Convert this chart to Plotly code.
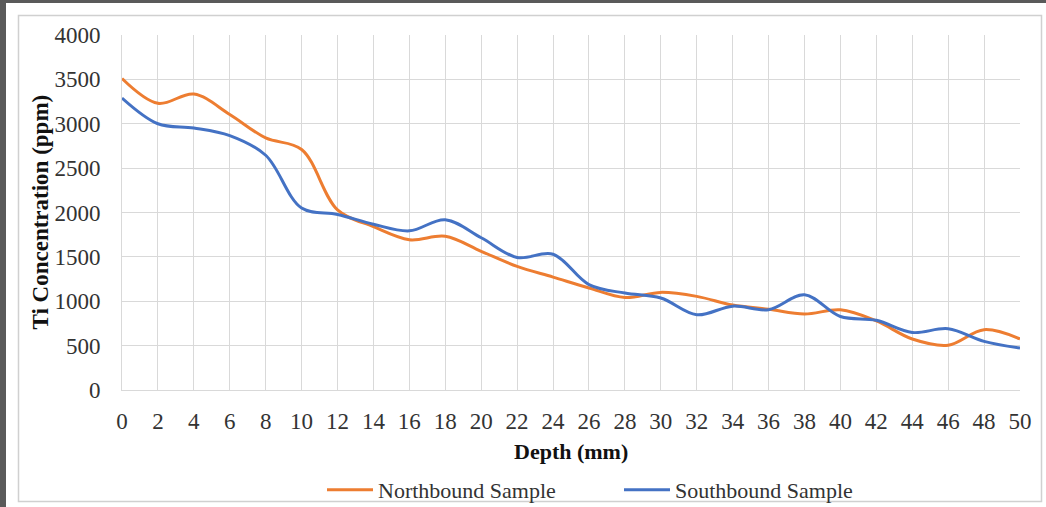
import plotly.graph_objects as go

depth = [0, 2, 4, 6, 8, 10, 12, 14, 16, 18, 20, 22, 24, 26, 28, 30, 32, 34, 36, 38, 40, 42, 44, 46, 48, 50]
northbound = [3510, 3230, 3335, 3105, 2840, 2710, 2030, 1840, 1693, 1732, 1563, 1392, 1272, 1150, 1042, 1100,
              1055, 957, 910, 856, 903, 778, 575, 505, 680, 575]
southbound = [3290, 3000, 2953, 2867, 2645, 2050, 1978, 1868, 1793, 1918, 1715, 1493, 1530, 1188, 1092, 1036,
              848, 945, 905, 1072, 828, 785, 648, 690, 548, 472]
y_ticks = [0, 500, 1000, 1500, 2000, 2500, 3000, 3500, 4000]
x_ticks = depth

W, H = 1046, 507
L, R, T, B = 122, 26, 35, 117
PW, PH = W - L - R, H - T - B


def px_x(p):
    return (p - L) / PW


def px_y(p):
    return 1 - (p - T) / PH


SERIF = "Liberation Serif, Times New Roman, serif"

fig = go.Figure()
fig.add_trace(go.Scatter(x=depth, y=northbound, mode="lines", name="Northbound Sample",
                         line=dict(color="#ED7D31", width=3, shape="spline", smoothing=1)))
fig.add_trace(go.Scatter(x=depth, y=southbound, mode="lines", name="Southbound Sample",
                         line=dict(color="#4472C4", width=3, shape="spline", smoothing=1)))

fig.update_layout(
    width=W, height=H, autosize=False,
    margin=dict(l=L, r=R, t=T, b=B, pad=0, autoexpand=False),
    paper_bgcolor="white", plot_bgcolor="white",
    font=dict(family=SERIF, size=22, color="#333333"),
    showlegend=True,
    legend=dict(orientation="h", xref="container", yref="container",
                x=322 / W, y=1 - 490 / H, xanchor="left", yanchor="middle",
                font=dict(family=SERIF, size=22, color="#333333"),
                entrywidth=236, entrywidthmode="pixels", itemwidth=46,
                bgcolor="rgba(0,0,0,0)", tracegroupgap=0),
    xaxis=dict(range=[0, 50], tickmode="array", tickvals=x_ticks, ticktext=[str(v) for v in x_ticks],
               showgrid=True, gridcolor="#d9d9d9", gridwidth=1, zeroline=False,
               showline=True, linecolor="#d9d9d9", linewidth=1, mirror=False,
               ticks="", ticklabelstandoff=10, tickfont=dict(family=SERIF, size=23, color="#333333"),
               fixedrange=True, automargin=False),
    yaxis=dict(range=[0, 4000], tickmode="array", tickvals=y_ticks, ticktext=[str(v) for v in y_ticks],
               showgrid=True, gridcolor="#d9d9d9", gridwidth=1, zeroline=False,
               showline=True, linecolor="#d9d9d9", linewidth=1,
               ticks="", ticklabelstandoff=16, tickfont=dict(family=SERIF, size=23, color="#333333"),
               fixedrange=True, automargin=False),
)

# axis titles
fig.add_annotation(text="<b>Depth (mm)</b>", xref="paper", yref="paper", x=0.5, y=px_y(451),
                   xanchor="center", yanchor="middle", showarrow=False,
                   font=dict(family=SERIF, size=22, color="#111111"))
fig.add_annotation(text="<b>Ti Concentration (ppm)</b>", xref="paper", yref="paper", x=px_x(40), y=0.5,
                   xanchor="center", yanchor="middle", showarrow=False, textangle=-90,
                   font=dict(family=SERIF, size=23, color="#111111"))

# chart frame and page edges
fig.add_shape(type="rect", xref="paper", yref="paper", x0=px_x(18.5), x1=px_x(1041.5), y0=px_y(501.5), y1=px_y(15.5),
              line=dict(color="#d0d0d0", width=1.5), fillcolor="rgba(0,0,0,0)", layer="below")
fig.add_shape(type="rect", xref="paper", yref="paper", x0=px_x(0), x1=px_x(6), y0=px_y(507), y1=px_y(0),
              line=dict(width=0), fillcolor="#5a5a5a", layer="below")
fig.add_shape(type="rect", xref="paper", yref="paper", x0=px_x(0), x1=px_x(1046), y0=px_y(3), y1=px_y(0),
              line=dict(width=0), fillcolor="#5a5a5a", layer="below")

fig.write_html("out.html", config={"displayModeBar": False, "responsive": False})
